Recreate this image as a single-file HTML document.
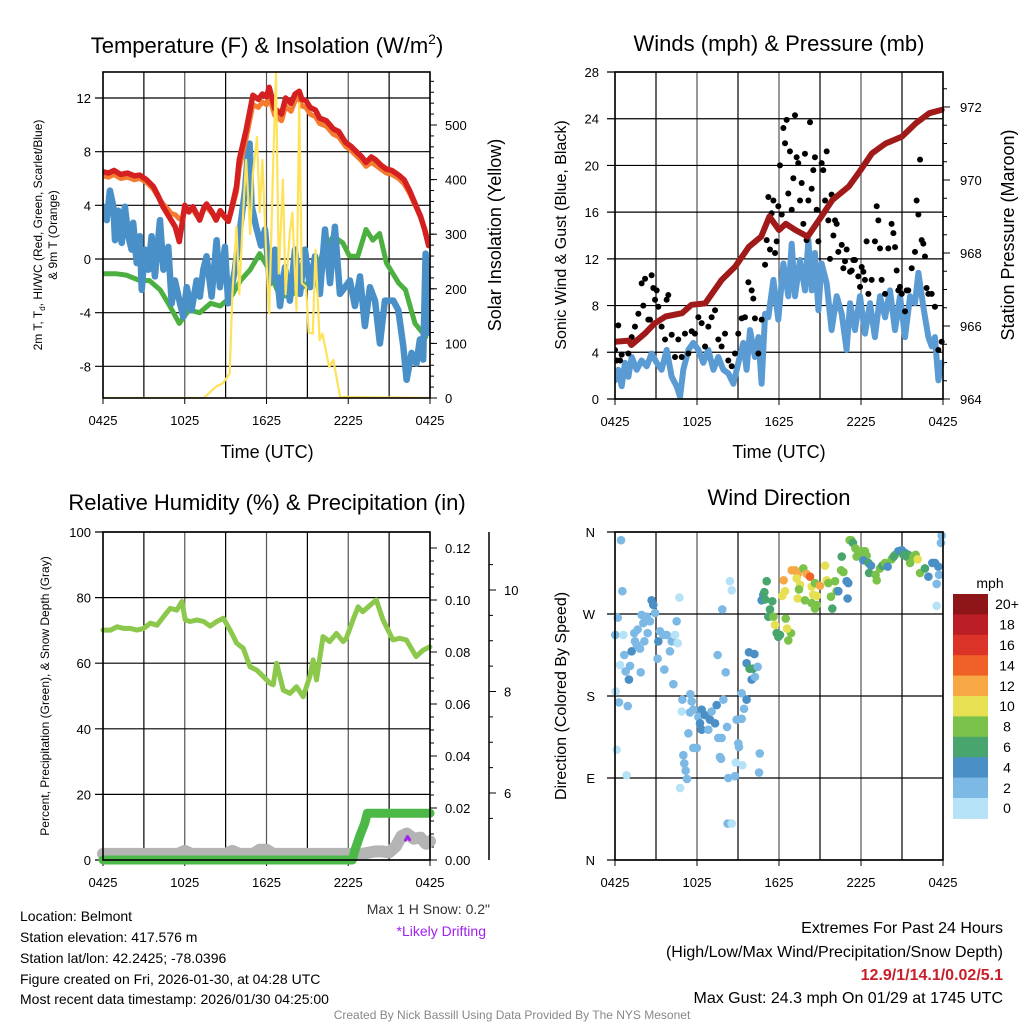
<!DOCTYPE html>
<html><head><meta charset="utf-8">
<style>
html,body{margin:0;padding:0;background:#fff;}
svg{display:block;font-family:"Liberation Sans",Arial,sans-serif;}
</style></head>
<body>
<svg id="fig" width="1024" height="1024" viewBox="0 0 1024 1024" xmlns="http://www.w3.org/2000/svg">
<rect width="1024" height="1024" fill="#fff"/>
<text x="267" y="53" font-size="22" text-anchor="middle">Temperature (F) &amp; Insolation (W/m<tspan dy="-9" font-size="14">2</tspan><tspan dy="9">)</tspan></text>
<text x="779" y="51" font-size="22" text-anchor="middle">Winds (mph) &amp; Pressure (mb)</text>
<text x="267" y="510" font-size="22" text-anchor="middle">Relative Humidity (%) &amp; Precipitation (in)</text>
<text x="779" y="505" font-size="22" text-anchor="middle">Wind Direction</text>
<g id="g1"></g>
<g id="g2"></g>
<g id="g3"></g>
<g id="g4"></g>
<text x="267" y="458" font-size="18" text-anchor="middle">Time (UTC)</text>
<text x="779" y="458" font-size="18" text-anchor="middle">Time (UTC)</text>
<text transform="translate(42,235) rotate(-90)" font-size="12" text-anchor="middle">2m T, T<tspan dy="3" font-size="8">d</tspan><tspan dy="-3">, HI/WC (Red, Green, Scarlet/Blue)</tspan></text>
<text transform="translate(57,235) rotate(-90)" font-size="12" text-anchor="middle">&amp; 9m T (Orange)</text>
<text transform="translate(501,235) rotate(-90)" font-size="18" text-anchor="middle">Solar Insolation (Yellow)</text>
<text transform="translate(566,235) rotate(-90)" font-size="16" text-anchor="middle">Sonic Wind &amp; Gust (Blue, Black)</text>
<text transform="translate(1014,235) rotate(-90)" font-size="18" text-anchor="middle">Station Pressure (Maroon)</text>
<text transform="translate(49,696) rotate(-90)" font-size="12" text-anchor="middle">Percent, Precipitation (Green), &amp; Snow Depth (Gray)</text>
<text transform="translate(566,696) rotate(-90)" font-size="16" text-anchor="middle">Direction (Colored By Speed)</text>
<text x="490" y="914" font-size="14" fill="#333" text-anchor="end">Max 1 H Snow: 0.2"</text>
<text x="486" y="936" font-size="14" fill="#a020f0" text-anchor="end">*Likely Drifting</text>
<g font-size="14">
<text x="20" y="921">Location: Belmont</text>
<text x="20" y="942">Station elevation: 417.576 m</text>
<text x="20" y="963">Station lat/lon: 42.2425; -78.0396</text>
<text x="20" y="984">Figure created on Fri, 2026-01-30, at 04:28 UTC</text>
<text x="20" y="1004">Most recent data timestamp: 2026/01/30 04:25:00</text>
</g>
<g font-size="16" text-anchor="end">
<text x="1003" y="933">Extremes For Past 24 Hours</text>
<text x="1003" y="957">(High/Low/Max Wind/Precipitation/Snow Depth)</text>
<text x="1003" y="980" fill="#c8202a" font-weight="bold">12.9/1/14.1/0.02/5.1</text>
<text x="1003" y="1003">Max Gust: 24.3 mph On 01/29 at 1745 UTC</text>
</g>
<text x="512" y="1019" font-size="12" fill="#888" text-anchor="middle">Created By Nick Bassill Using Data Provided By The NYS Mesonet</text>
</svg>
<script>
// ---------- DATA ----------
const xTickLabels = ["0425","1025","1625","2225","0425"];
const tempTicks = [12,8,4,0,-4,-8];
const solarTicks = [0,100,200,300,400,500];
const windTicks = [0,4,8,12,16,20,24,28];
const presTicks = [964,966,968,970,972];
const rhTicks = [0,20,40,60,80,100];
const precipTicks = [0.00,0.02,0.04,0.06,0.08,0.10,0.12];
const snowTicks = [6,8,10];
const dirTicks = ["N","E","S","W","N"];
const speedBins = ["0","2","4","6","8","10","12","14","16","18","20+"];

const tempHours = [0,0.4,0.8,1.3,1.8,2.3,2.7,3.2,3.7,4.0,4.4,4.7,5,5.3,5.6,5.8,6,6.3,6.6,6.9,7.1,7.4,7.6,8.0,8.3,8.6,8.9,9.2,9.4,9.8,10,10.5,11,11.4,11.7,12.0,12.2,12.4,12.6,13.1,13.4,13.8,14.1,14.4,14.6,14.9,15.2,15.6,15.9,16.4,16.9,17.3,17.8,18.2,18.6,19.0,19.3,19.7,20,20.4,20.8,21.2,21.7,22.1,22.5,23,23.3,23.6,23.9];
const tempRed = [6.5,6.4,6.6,6.3,6.4,6.2,6.25,5.9,5.4,4.8,3.9,3.4,2.9,2.4,1.3,2.6,4.0,3.5,3.9,3.3,2.9,3.8,4.1,3.5,2.9,3.6,3.2,2.8,3.6,5.4,7.4,9.6,12.2,11.9,12.3,12.1,12.8,12.0,11.2,10.8,12.0,11.6,12.3,12.5,11.9,11.8,11.3,11.1,10.5,10.3,9.7,9.5,8.7,8.4,8.0,7.6,7.2,7.6,7.4,7.0,6.7,6.6,6.25,5.9,5.1,3.9,3.2,2.2,1.0];
const temp9m = [6.2,6.1,6.3,6.0,6.1,5.9,6.0,5.7,5.2,4.7,4.1,3.8,3.4,3.3,3.0,3.0,3.8,3.6,3.7,3.2,3.0,3.7,3.9,3.4,3.0,3.5,3.1,2.9,3.5,5.0,6.8,9.0,11.5,11.3,11.7,11.5,12.2,11.4,10.7,10.3,11.4,11.0,11.8,12.0,11.4,11.3,10.8,10.6,10.1,9.9,9.3,9.1,8.4,8.1,7.7,7.3,6.9,7.2,7.0,6.7,6.4,6.3,6.0,5.6,4.9,3.8,3.1,2.3,1.2];
const wcHours = [0.02,0.27,0.51,0.76,0.88,1.12,1.37,1.61,1.86,2.1,2.22,2.47,2.71,2.84,3.08,3.33,3.57,3.81,4.18,4.43,4.79,5.04,5.28,5.65,5.89,6.14,6.5,6.87,7.11,7.36,7.6,7.97,8.34,8.58,8.95,9.19,9.44,9.68,10.05,10.42,10.6,10.76,10.9,11.24,11.6,11.89,12.26,12.62,12.99,13.36,13.72,14.09,14.46,14.82,15.19,15.56,15.92,16.29,16.66,17.02,17.39,17.76,18.12,18.49,18.86,19.22,19.59,19.96,20.32,20.69,21.3,21.67,22.04,22.28,22.65,23.0,23.26,23.5,23.68,23.92];
const wcBlue = [3.9,2.9,5.1,3.9,1.4,3.6,1.2,3.9,1.7,0.7,2.7,-0.3,1.7,-2.3,0.7,-0.8,1.7,-1.3,2.9,-0.8,0.9,-3.3,-1.6,-3.3,-4.3,-2.1,-3.8,-1.6,-2.8,-0.8,0.2,-2.8,1.4,-2.1,0.9,-3.3,-2.1,-0.8,2.2,5.1,7.4,8.6,4.0,2.4,1.0,2.2,-1.8,0.7,-3.5,-0.6,-3.1,0.7,-2.6,0.7,-2.1,0.2,-2.6,2.2,-1.8,2.4,-2.6,-2.1,-1.6,-3.5,-1.3,-5.0,-2.1,-3.1,-6.3,-3.1,-3.1,-3.8,-6.5,-9.0,-7.0,-7.8,-6.0,-7.5,0.4,-5.5];
const dewHours = [0,1,1.7,2.7,3.4,4.2,4.9,5.6,6.3,7.1,7.9,8.6,9.4,10.1,10.8,11.5,12.2,12.9,13.6,14.4,15.6,16.1,16.9,17.6,18.1,18.7,19.3,19.8,20.3,20.8,21.7,22.2,22.9,23.7];
const dewGreen = [-1.1,-1.1,-1.2,-1.6,-1.6,-2.3,-3.5,-4.8,-3.8,-4.0,-3.3,-3.5,-2.8,-1.6,-0.8,0.4,-0.8,-2.6,-2.8,-2.3,-1.3,0.4,1.7,1.2,0.2,0.2,2.2,1.4,1.9,-0.3,-1.8,-2.3,-4.8,-5.8,-6.3];
const solarHours = [0,7.4,8.3,8.8,9.3,9.5,9.8,10,10.3,10.5,10.8,11,11.3,11.5,11.7,12,12.2,12.5,12.7,12.9,13.2,13.4,13.7,13.9,14.2,14.4,14.6,14.9,15.1,15.4,15.6,15.9,16.1,16.4,16.6,16.9,17.4,24];
const solarW = [0,0,21,27,45,192,314,190,344,436,300,411,478,340,436,250,155,436,595,228,400,190,300,340,160,540,210,204,120,118,271,106,118,82,57,70,2,0];
const presHours = [0,1,1.2,2.2,2.9,3.7,4.9,5.6,6.6,7.8,8.8,9.8,10.7,11.3,12,12.5,13.2,14.1,15.1,15.9,17.1,17.8,18.8,19.8,21,22,23,23.9];
const presMb = [965.57,965.6,965.48,965.8,966.07,966.26,966.35,966.58,966.62,967.26,967.63,968.17,968.45,969.0,968.63,968.8,968.63,968.45,969.0,969.45,969.82,970.18,970.73,971.0,971.19,971.55,971.83,971.92];
const sonicHours = [0,.24,.49,.73,.98,1.22,1.59,1.95,2.32,2.68,3.05,3.41,3.78,4.15,4.51,4.76,5.0,5.37,5.73,6.1,6.46,6.83,7.2,7.56,7.93,8.29,8.66,9.02,9.39,9.63,9.88,10.24,10.49,10.73,10.98,11.22,11.59,11.95,12.32,12.68,12.93,13.17,13.54,13.9,14.15,14.39,14.63,14.88,15.12,15.49,15.85,16.22,16.59,16.95,17.2,17.56,17.93,18.29,18.66,19.02,19.39,19.76,20.12,20.49,20.85,21.22,21.59,21.95,22.2,22.56,22.93,23.17,23.41,23.66,23.9];
const sonicMph = [1.6,2.5,1.1,3.1,1.9,3.6,2.5,3.3,2.8,3.9,3.1,2.5,4.2,1.9,1.1,0.2,2.5,4.2,4.8,4.2,3.1,4.2,2.5,3.6,2.5,2.2,1.3,3.1,4.8,2.5,5.9,3.6,5.3,1.3,7.3,7.0,10.2,6.8,11.6,8.8,13.3,8.8,11.9,9.3,13.6,9.3,12.5,7.6,11.6,9.9,5.9,8.8,7.3,4.2,8.2,5.9,8.8,5.6,8.2,5.3,8.8,7.0,9.3,5.9,8.8,5.3,8.8,8.2,10.8,7.9,5.3,4.5,5.3,1.6,3.1];
const gustHours = [0,.12,.24,.37,.49,.98,1.22,1.46,1.71,1.95,2.07,2.2,2.44,2.56,2.68,2.8,2.93,3.05,3.17,3.41,3.66,3.78,3.9,4.15,4.39,4.63,4.88,5.12,5.37,5.61,5.85,6.1,6.34,6.59,6.83,7.07,7.32,7.56,7.8,8.05,8.29,8.54,8.78,9.02,9.27,9.51,9.76,10,10.12,10.24,10.49,10.73,10.98,11.1,11.22,11.34,11.46,11.59,11.71,11.83,11.95,12.07,12.2,12.32,12.44,12.56,12.68,12.8,12.93,13.05,13.17,13.29,13.41,13.54,13.66,13.78,13.9,14.02,14.15,14.27,14.39,14.51,14.63,14.76,14.88,15.12,15.24,15.37,15.49,15.61,15.73,15.85,15.98,16.1,16.22,16.34,16.59,16.71,16.83,16.95,17.2,17.32,17.44,17.56,17.8,17.93,18.05,18.17,18.29,18.41,18.54,18.78,19.02,19.15,19.27,19.39,19.51,19.76,20,20.24,20.37,20.49,20.61,20.73,20.85,20.98,21.22,21.34,21.46,21.71,21.95,22.07,22.2,22.32,22.44,22.56,22.68,22.8,22.93,23.17,23.41,23.66,23.9];
const gustMph = [4.2,3.3,6.3,3.3,3.8,3.9,5.3,6.2,7.3,9.9,8.0,10.3,6.8,6.8,10.6,9.5,8.5,9.3,7.9,6.2,5.1,8.5,8.9,5.5,3.6,5.1,3.6,5.6,3.9,5.8,5.6,7.0,6.5,4.5,6.2,7.0,7.6,5.1,4.5,5.6,3.3,2.8,3.9,5.6,6.9,7.0,10.0,9.3,8.6,6.9,3.9,6.8,11.5,13.6,17.3,12.8,15.9,17.0,12.5,13.5,16.5,20.0,15.8,23.2,21.9,23.9,17.6,21.2,16.2,18.9,24.3,20.7,20.2,17.0,18.5,15.0,21.0,13.6,17.0,23.7,18.0,19.6,20.7,16.2,13.5,20.2,19.6,17.0,21.2,15.3,12.0,17.5,14.0,15.3,15.0,12.6,13.2,11.2,11.8,12.8,10.9,11.0,11.9,11.9,10.5,9.6,11.3,10.9,10.2,13.5,9.0,10.2,13.5,16.5,15.3,12.9,10.2,9.0,12.9,15.0,14.2,13.0,11.0,9.3,9.6,9.0,7.5,9.3,9.3,11.2,12.6,17.0,15.8,20.5,13.6,13.3,12.2,9.5,9.0,9.0,7.9,4.2,4.9];
const rhHours = [0,0.55,1.04,1.52,2.0,2.5,2.99,3.47,3.96,4.45,4.93,5.42,5.79,6.03,6.40,6.89,7.38,7.87,8.35,8.84,9.33,9.81,10.30,10.79,11.28,11.77,12.25,12.49,12.74,13.23,13.72,14.2,14.69,15.18,15.42,15.67,16.15,16.64,17.13,17.62,17.86,18.35,18.72,19.06,20.06,20.55,21.28,21.77,22.26,22.99,23.5,24];
const rhPct = [70.1,70.1,71.1,70.6,70.6,70.1,70.6,72.2,71.6,74.2,76.7,76.2,78.8,73.2,72.7,73.2,72.7,71.3,72.7,73.7,70.1,66.1,64.5,58.9,57.9,55.9,53.9,53.4,60.0,51.8,50.8,52.8,49.8,55.9,61.0,54.9,68.1,66.6,69.1,66.6,67.6,73.2,77.2,75.7,79.3,73.2,67.1,67.6,67.1,62.0,64.0,65.0,70.1];
const precipHours = [0,18.3,18.5,18.9,19.2,19.4,24];
const precipIn = [0,0,0.004,0.010,0.014,0.018,0.018];
const snowHours = [0,2,3.5,5.5,6,6.5,9,9.5,10,11,11.5,12,12.5,13,16,18,19,20,20.5,21,21.5,21.9,22.3,22.8,23.3,23.7,24];
const snowIn = [4.8,4.8,4.8,4.8,4.86,4.8,4.8,4.86,4.8,4.8,4.88,4.88,4.8,4.8,4.8,4.8,4.8,4.85,4.85,4.83,4.95,5.15,5.2,5.1,5.12,5.0,5.05];
const driftHours = [22.2,22.35,22.5];
const driftIn = [5.07,5.14,5.08];
const dirHours = [.44,.54,.2,0.02,.61,.37,.05,.29,.93,.12,.85,.68,1.1,.78,1.02,1.22,1.46,1.66,1.95,2.32,2.07,2.56,2.39,2.68,2.8,2.93,3.29,3.17,3.54,3.78,4.15,4.39,4.59,4.51,4.71,2.15,1.83,1.59,3.12,3.61,4.27,4.02,1.88,1.41,5.51,4.93,5.61,4.88,5.49,5.73,6.34,6.1,6.59,6.95,7.32,6.22,7.07,7.44,6.34,6.83,5.37,5.73,5.98,5.0,5.07,5.17,5.27,4.76,7.56,7.8,7.51,8.1,7.93,8.2,7.68,7.76,8.83,9.32,8.29,8.78,8.24,8.54,9.02,9.07,8.9,9.27,9.44,9.27,9.63,9.63,10.2,9.8,10.0,10.24,9.85,10.1,10.44,10.59,10.54,8.41,8.54,7.85,10.85,10.93,10.73,11.1,10.98,11.34,11.22,11.59,11.51,11.71,11.83,11.95,12.07,12.68,12.88,12.59,12.49,12.24,12.44,12.34,12.93,13.17,13.37,13.29,13.54,13.46,13.37,13.78,14.02,14.27,14.39,14.63,14.51,14.76,13.9,14.39,14.63,14.76,15.0,15.37,15.49,15.61,15.8,15.9,16.1,16.22,16.34,16.54,16.59,16.71,16.95,17.07,17.02,17.17,17.29,17.41,17.59,17.8,17.68,18.05,18.29,18.41,18.17,18.54,18.73,18.59,19.07,19.15,19.39,19.56,19.76,19.95,20.24,20.49,20.73,20.98,21.22,21.34,21.46,21.59,21.83,22.0,22.15,22.32,22.68,22.93,23.22,23.41,23.66,23.71,23.54,23.54,23.85,23.9,20.39,21.1];
const dirDeg = [351,295,266,247,247,214,185,173,169,121,93,225,213,207,198,229,240,253,269,267,260,262,249,285,280,271,251,240,247,247,240,247,238,262,288,240,232,236,221,209,193,229,206,249,182,176,174,163,162,165,165,157,159,154,150,150,163,170,143,143,139,123,123,115,106,98,89,79,134,134,225,206,176,146,113,111,107,104,90,92,40,40,128,124,154,155,166,183,176,216,226,228,198,201,210,210,212,117,96,306,296,275,291,294,285,306,286,275,267,267,284,258,249,245,247,241,249,254,265,290,295,307,318,318,314,309,302,297,287,320,314,311,300,304,291,290,285,282,276,280,301,323,307,304,289,276,306,295,295,318,333,316,306,304,287,351,351,348,342,335,333,339,339,334,329,326,323,315,313,307,320,323,326,322,330,335,339,340,337,333,335,326,333,335,330,315,320,311,326,326,322,313,303,279,348,356,333,335];
const dirSpeed = [2,2,2,2,0,0,0,2,2,0,0,2,2,2,4,4,2,2,2,2,2,2,2,4,4,2,2,4,2,2,2,0,0,2,0,2,2,2,2,2,2,2,2,2,2,2,2,0,2,2,4,2,4,4,4,4,2,4,4,2,2,2,2,2,2,2,2,0,2,2,2,2,2,2,2,2,0,0,2,2,2,0,2,2,2,2,2,2,4,4,4,4,4,2,6,6,2,2,2,0,0,2,4,6,4,6,6,6,6,8,6,10,6,6,6,8,8,10,8,10,10,12,12,12,12,10,10,8,10,8,12,14,10,8,10,10,8,8,8,8,12,10,10,8,8,6,8,8,4,8,6,8,4,4,4,8,8,6,8,8,8,8,8,8,4,6,4,6,8,8,8,6,8,4,8,8,4,4,4,6,6,8,8,8,10,8,6,4,4,4,4,2,2,0,2,2,6,6];

// ---------- helpers ----------
const NS = "http://www.w3.org/2000/svg";
function mk(parent, tag, attrs, txt){
  const e = document.createElementNS(NS, tag);
  for (const k in attrs) e.setAttribute(k, attrs[k]);
  if (txt !== undefined) e.textContent = txt;
  parent.appendChild(e);
  return e;
}
function lin(d0,d1,r0,r1){ return v => r0 + (v-d0)*(r1-r0)/(d1-d0); }
function pathD(xs, ys, fx, fy){
  return xs.map((x,i)=>(i?"L":"M")+fx(x).toFixed(1)+","+fy(ys[i]).toFixed(1)).join("");
}
function frame(g, L, R, T, B){
  const fx = lin(0,24,L,R);
  for (let h=0; h<=24; h+=3){
    const l = mk(g,"line",{x1:fx(h),x2:fx(h),y1:T,y2:B,stroke:(h%6? "#000":"#555"),"stroke-width":1.2});
    
    
  }
  xTickLabels.forEach((t,i)=>{
    const x = fx(i*6);
    mk(g,"line",{x1:x,x2:x,y1:B,y2:B+6,stroke:"#000"});
    const tx = mk(g,"text",{x:x,y:B+27,"font-size":13,"text-anchor":"middle"},t);
    
    
  });
  return fx;
}
function hline(g,y,L,R,w){
  const l = mk(g,"line",{x1:L-8,x2:R,y1:y,y2:y,stroke:"#000","stroke-width":w||1.2});
  
  
}
function border(g,L,R,T,B){
  const r = mk(g,"rect",{x:L,y:T,width:R-L,height:B-T,fill:"none",stroke:"#000","stroke-width":1.6});
  
  
}
const speedColors = ["#b5e2f7","#7cb9e4","#4a8fc6","#48a56e","#7bc24a","#e6e052","#f7a845","#f06128","#dc3328","#bb1e24","#8e1518"];

// ---------- Panel 1 ----------
(function(){
  const g = document.getElementById("g1");
  const L=103,R=430,T=72,B=398;
  const fx = frame(g,L,R,T,B);
  const fy = lin(0,12,259,98);
  const fs = lin(0,500,398,125);
  tempTicks.forEach(v=>{ hline(g,fy(v),L,R);
    const t = mk(g,"text",{x:L-12,y:fy(v)+5,"font-size":13,"text-anchor":"end"},v);
      });
  solarTicks.forEach(v=>{ mk(g,"line",{x1:R,x2:R+7,y1:fs(v),y2:fs(v),stroke:"#000"});
    const t = mk(g,"text",{x:R+15,y:fs(v)+5,"font-size":13},v);
      });
  for (let v=20; v<600; v+=20){ const y=fs(v); if(y>T) mk(g,"line",{x1:R,x2:R+4,y1:y,y2:y,stroke:"#000"}); }
  const clip = mk(g,"clipPath",{id:"c1"}); mk(clip,"rect",{x:L,y:T-6,width:R-L,height:B-T+6});
  const lg = mk(g,"g",{"clip-path":"url(#c1)",fill:"none","stroke-linejoin":"round","stroke-linecap":"round"});
  let p;
  p = mk(lg,"path",{d:pathD(dewHours,dewGreen,fx,fy),stroke:"#4cb040","stroke-width":5});
   
  p = mk(lg,"path",{d:pathD(wcHours,wcBlue,fx,fy),stroke:"#4a90c8","stroke-width":6.5});
   
  p = mk(lg,"path",{d:pathD(tempHours,temp9m,fx,fy),stroke:"#f47c30","stroke-width":5});
   
  p = mk(lg,"path",{d:pathD(tempHours,tempRed,fx,fy),stroke:"#d42020","stroke-width":5.5});
   
  p = mk(lg,"path",{d:pathD(solarHours,solarW,fx,fs),stroke:"#fde25a","stroke-width":2.2});
   
  border(g,L,R,T,B);
})();

// ---------- Panel 2 ----------
(function(){
  const g = document.getElementById("g2");
  const L=615,R=943,T=72,B=399;
  const fx = frame(g,L,R,T,B);
  const fy = lin(0,28,399,72);
  const fp = lin(964,972,399,107);
  windTicks.forEach(v=>{ hline(g,fy(v),L,R);
    const t = mk(g,"text",{x:L-16,y:fy(v)+5,"font-size":13,"text-anchor":"end"},v);
      });
  presTicks.forEach(v=>{ mk(g,"line",{x1:R,x2:R+7,y1:fp(v),y2:fp(v),stroke:"#000"});
    const t = mk(g,"text",{x:R+17,y:fp(v)+5,"font-size":13},v);
      });
  for (let v=964.5; v<973; v+=0.5){ const y=fp(v); if(y>T) mk(g,"line",{x1:R,x2:R+4,y1:y,y2:y,stroke:"#000"}); }
  const clip = mk(g,"clipPath",{id:"c2"}); mk(clip,"rect",{x:L,y:T,width:R-L+4,height:B-T});
  const lg = mk(g,"g",{"clip-path":"url(#c2)",fill:"none","stroke-linejoin":"round","stroke-linecap":"round"});
  let p = mk(lg,"path",{d:pathD(sonicHours,sonicMph,fx,fy),stroke:"#5a9bd4","stroke-width":6});
   
  gustHours.forEach((h,i)=>{
    const c = mk(lg,"circle",{cx:fx(h),cy:fy(gustMph[i]),r:3,fill:"#000"});
    
    
  });
  p = mk(lg,"path",{d:pathD(presHours,presMb,fx,fp),stroke:"#a01a1a","stroke-width":6});
   
  border(g,L,R,T,B);
})();

// ---------- Panel 3 ----------
(function(){
  const g = document.getElementById("g3");
  const L=103,R=430,T=532,B=860;
  const fx = frame(g,L,R,T,B);
  const fy = lin(0,100,860,532);
  const fpr = lin(0,0.12,860,548);
  const fsn = lin(6,10,793,590);
  rhTicks.forEach(v=>{ hline(g,fy(v),L,R);
    const t = mk(g,"text",{x:L-12,y:fy(v)+5,"font-size":13,"text-anchor":"end"},v);
      });
  precipTicks.forEach(v=>{ mk(g,"line",{x1:R,x2:R+7,y1:fpr(v),y2:fpr(v),stroke:"#000"});
    const t = mk(g,"text",{x:R+15,y:fpr(v)+5,"font-size":13},v.toFixed(2));
      });
  for (let v=0.005; v<0.125; v+=0.005){ mk(g,"line",{x1:R,x2:R+4,y1:fpr(v),y2:fpr(v),stroke:"#000"}); }
  const ax = mk(g,"line",{x1:489,x2:489,y1:532,y2:860,stroke:"#000","stroke-width":1.5});
   
  snowTicks.forEach(v=>{ mk(g,"line",{x1:489,x2:496,y1:fsn(v),y2:fsn(v),stroke:"#000"});
    const t = mk(g,"text",{x:504,y:fsn(v)+5,"font-size":13},v);
      });
  for (let v=5.5; v<11; v+=0.5){ const y=fsn(v); if(y>534 && y<858) mk(g,"line",{x1:489,x2:493,y1:y,y2:y,stroke:"#000"}); }
  const lg = mk(g,"g",{fill:"none","stroke-linejoin":"round","stroke-linecap":"round"});
  let p = mk(lg,"path",{d:pathD(snowHours,snowIn,fx,fsn),stroke:"#b4b4b4","stroke-width":12});
   
  p = mk(lg,"path",{d:pathD(driftHours,driftIn,fx,fsn),stroke:"#a020f0","stroke-width":3});
   
  p = mk(lg,"path",{d:pathD(precipHours,precipIn,fx,fpr),stroke:"#4cb848","stroke-width":9});
   
  p = mk(lg,"path",{d:pathD(rhHours,rhPct,fx,fy),stroke:"#8cc84b","stroke-width":5});
   
  border(g,L,R,T,B);
})();

// ---------- Panel 4 ----------
(function(){
  const g = document.getElementById("g4");
  const L=615,R=943,T=532,B=860;
  const fx = frame(g,L,R,T,B);
  const fd = lin(0,360,860,532);
  dirTicks.forEach((lab,i)=>{ const y=fd(i*90); hline(g,y,L,R);
    const t = mk(g,"text",{x:L-20,y:y+5,"font-size":13,"text-anchor":"end"},lab);
      });
  dirHours.forEach((h,i)=>{
    const idx = Math.min(10, Math.floor(dirSpeed[i]/2));
    const c = mk(g,"circle",{cx:fx(h),cy:fd(dirDeg[i]),r:4.3,fill:speedColors[idx]});
    
    
  });
  border(g,L,R,T,B);
  const cb = mk(g,"g",{});
  
  
  const t0 = mk(cb,"text",{x:990,y:588,"font-size":14,"text-anchor":"middle"},"mph");
   
  const top=594, h=20.4;
  speedBins.slice().reverse().forEach((lab,i)=>{
    const idx = speedBins.length-1-i;
    const r = mk(cb,"rect",{x:953,y:top+i*h,width:35,height:h+0.5,fill:speedColors[idx]});
     
    const t = mk(cb,"text",{x:1007,y:top+i*h+h/2+5,"font-size":14,"text-anchor":"middle"},lab);
     
  });
})();
</script>
</body></html>
